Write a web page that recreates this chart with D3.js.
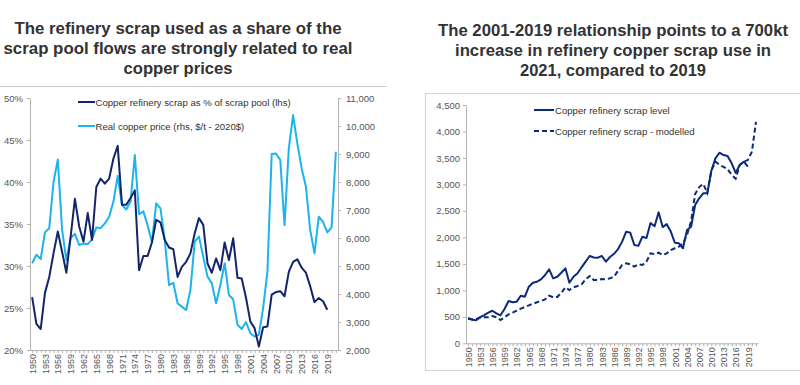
<!DOCTYPE html>
<html>
<head>
<meta charset="utf-8">
<script src="https://cdn.jsdelivr.net/npm/d3@7"></script>
<style>
html,body{margin:0;padding:0;background:#fff;}
svg{display:block;}
</style>
</head>
<body>
<svg id="chart" width="800" height="385"></svg>
<script>
// ---------- DATA ----------
const years = d3.range(1950, 2022); // 1950..2021 category axis
const leftTitle = ["The refinery scrap used as a share of the", "scrap pool flows are strongly related to real", "copper prices"];
const rightTitle = ["The 2001-2019 relationship points to a 700kt", "increase in refinery copper scrap use in", "2021, compared to 2019"];

const seriesNamesLeft = ["Copper refinery scrap as % of scrap pool (lhs)", "Real copper price (rhs, $/t - 2020$)"];
const seriesNamesRight = ["Copper refinery scrap level", "Copper refinery scrap - modelled"];

// % of scrap pool, 1950-2019
const scrapShare = [26.3,23.1,22.5,26.8,28.7,31.5,34.1,31.7,29.2,33.5,
  38.0,34.7,32.9,36.3,33.1,39.4,40.4,39.8,40.4,42.8,
  44.3,37.3,37.3,38.1,39.0,29.5,31.2,31.2,32.8,35.5,
  35.2,33.1,32.2,32.0,28.7,29.9,30.5,31.5,33.9,35.7,
  34.9,30.3,29.2,30.9,29.5,32.8,30.7,33.3,28.6,28.5,
  26.2,23.4,22.6,20.4,22.7,22.8,26.6,26.9,27.0,26.4,
  29.3,30.5,30.8,29.8,29.2,27.6,25.7,26.2,25.8,24.8];
// Real copper price $/t 2020$, 1950-2021
const copperPrice = [5100,5400,5250,6200,6350,8000,8800,6300,5200,6000,
  6150,5750,5800,5780,5950,6380,6350,6520,6760,7300,
  8220,7180,7020,7300,8960,6850,6950,6450,5850,7240,
  7060,5930,4320,4400,3670,3550,3430,4140,5870,6050,
  5330,4620,4380,3670,4320,5100,3965,3810,2900,2750,
  3000,2600,2480,2550,3500,4800,9000,9020,8790,6460,
  9200,10390,9380,8490,7830,6290,5450,6760,6580,6200,
  6380,9080];
// Copper refinery scrap level (kt), 1950-2019
const scrapLevel = [480,445,435,495,534,580,615,566,529,648,
  799,774,786,899,880,1069,1144,1163,1208,1290,
  1397,1227,1257,1333,1416,1144,1257,1322,1435,1541,
  1648,1620,1617,1648,1541,1630,1690,1780,1920,2107,
  2090,1856,1840,2013,1990,2270,2210,2473,2195,2250,
  2110,1899,1888,1794,2139,2202,2611,2738,2832,2832,
  3259,3493,3599,3555,3536,3398,3220,3366,3429,3334];
// Copper refinery scrap modelled (kt), 1950-2021
const scrapModelled = [459,455,455,483,491,491,515,491,440,491,
  547,578,616,654,685,717,748,774,799,830,
  899,868,874,955,1057,1006,1057,1082,1114,1208,
  1271,1195,1195,1214,1208,1227,1257,1371,1478,1510,
  1491,1447,1491,1478,1541,1699,1686,1711,1667,1699,
  1762,1794,1824,1888,2050,2300,2820,2950,3010,2840,
  3260,3430,3370,3330,3290,3180,3110,3370,3430,3460,
  3620,4180];

const pctTicks = [20,25,30,35,40,45,50];
const priceTicks = [2000,3000,4000,5000,6000,7000,8000,9000,10000,11000];
const levelTicks = [0,500,1000,1500,2000,2500,3000,3500,4000,4500];
const labelYears = years.filter(y => (y - 1950) % 3 === 0 && y <= 2019);

// ---------- STYLE ----------
const NAVY_L = "#13256a";
const CYAN = "#1db3eb";
const NAVY_R = "#0d2a78";
const AXIS = "#b3b3b3";
const LABEL = "#555";
const NARROW = "'Liberation Sans Narrow','Arial Narrow','Liberation Sans',Arial,sans-serif";
const BOLD = "'Liberation Sans',Arial,sans-serif";

const svg = d3.select("#chart");

// ---------- TITLES ----------
function title(lines, widths, cx, y0) {
  const t = svg.append("text").attr("text-anchor","middle")
    .attr("font-family", BOLD).attr("font-weight","bold").attr("font-size", 16.8)
    .attr("fill","#333");
  lines.forEach((l,i)=> t.append("tspan").attr("x",cx).attr("y", y0 + i*20)
    .attr("textLength", widths[i]).attr("lengthAdjust","spacingAndGlyphs").text(l));
}
title(leftTitle, [327, 349, 109], 178, 33.5);
title(rightTitle, [350, 316, 186], 613, 36);

// separator / frame
svg.append("line").attr("x1",0).attr("x2",387).attr("y1",86.5).attr("y2",86.5)
  .attr("stroke","#cfcfcf").attr("stroke-width",1.2);
svg.append("rect").attr("x",425.5).attr("y",93.5).attr("width",400).attr("height",277)
  .attr("fill","none").attr("stroke","#d6d6d6").attr("stroke-width",1.2);

// ---------- LEFT CHART ----------
const xL = d3.scalePoint().domain(years).range([30, 338]).padding(0.5);
const yL = d3.scaleLinear().domain([20, 50]).range([350, 98]);
const yP = d3.scaleLinear().domain([2000, 11000]).range([350, 98]);

function styleAxis(g, fs) {
  g.select(".domain").attr("stroke", AXIS);
  g.selectAll(".tick line").attr("stroke", AXIS);
  g.selectAll("text").attr("fill", LABEL).attr("font-family", NARROW).attr("font-size", fs);
}

svg.append("g").attr("transform","translate(30,0)")
  .call(d3.axisLeft(yL).tickValues(pctTicks).tickFormat(d=>d+"%").tickSize(3).tickSizeOuter(0).tickPadding(4))
  .call(g=>styleAxis(g, 9.5));
svg.append("g").attr("transform","translate(338,0)")
  .call(d3.axisRight(yP).tickValues(priceTicks).tickFormat(d3.format(",")).tickSize(3).tickSizeOuter(0).tickPadding(5))
  .call(g=>styleAxis(g, 9.5));

// x axis left
const gxL = svg.append("g").attr("transform","translate(0,350)")
  .call(d3.axisBottom(xL).tickValues(years).tickSize(3).tickSizeOuter(0)
    .tickFormat(d => labelYears.includes(d) ? d : ""))
  .call(g=>styleAxis(g, 9));
gxL.selectAll(".tick text").attr("transform","rotate(-90)").attr("text-anchor","end")
  .attr("x",-4).attr("y",0).attr("dy","0.35em");

const lineShare = d3.line().x((d,i)=>xL(years[i])).y(d=>yL(d));
const linePrice = d3.line().x((d,i)=>xL(years[i])).y(d=>yP(d));
svg.append("path").datum(copperPrice).attr("d", linePrice).attr("fill","none")
  .attr("stroke",CYAN).attr("stroke-width",2).attr("stroke-linejoin","round");
svg.append("path").datum(scrapShare).attr("d", lineShare).attr("fill","none")
  .attr("stroke",NAVY_L).attr("stroke-width",2).attr("stroke-linejoin","round");

// legend left
[[NAVY_L, seriesNamesLeft[0], 102],[CYAN, seriesNamesLeft[1], 126]].forEach(([c,t,y])=>{
  svg.append("line").attr("x1",78).attr("x2",95).attr("y1",y).attr("y2",y)
    .attr("stroke",c).attr("stroke-width",2);
  svg.append("text").attr("x",95.5).attr("y",y+3.5).attr("font-family",NARROW)
    .attr("font-size",9.6).attr("fill","#333").text(t);
});

// ---------- RIGHT CHART ----------
const xR = d3.scalePoint().domain(years).range([466, 758]).padding(0.5);
const yR = d3.scaleLinear().domain([0, 4500]).range([343.3, 105]);

svg.append("g").attr("transform","translate(466,0)")
  .call(d3.axisLeft(yR).tickValues(levelTicks).tickFormat(d3.format(",")).tickSize(3).tickSizeOuter(0).tickPadding(3))
  .call(g=>styleAxis(g, 9.5));
const gxR = svg.append("g").attr("transform","translate(0,343.3)")
  .call(d3.axisBottom(xR).tickValues(years).tickSize(3).tickSizeOuter(0)
    .tickFormat(d => labelYears.includes(d) ? d : ""))
  .call(g=>styleAxis(g, 9));
gxR.selectAll(".tick text").attr("transform","rotate(-90)").attr("text-anchor","end")
  .attr("x",-4).attr("y",0).attr("dy","0.35em");

const lineR = d3.line().x((d,i)=>xR(years[i])).y(d=>yR(d));
svg.append("path").datum(scrapModelled).attr("d", lineR).attr("fill","none")
  .attr("stroke",NAVY_R).attr("stroke-width",2).attr("stroke-dasharray","5,3");
svg.append("path").datum(scrapLevel).attr("d", lineR).attr("fill","none")
  .attr("stroke",NAVY_R).attr("stroke-width",2).attr("stroke-linejoin","round");

// legend right
[[false, seriesNamesRight[0], 110],[true, seriesNamesRight[1], 131]].forEach(([dash,t,y])=>{
  svg.append("line").attr("x1",534).attr("x2",554).attr("y1",y).attr("y2",y)
    .attr("stroke",NAVY_R).attr("stroke-width",2).attr("stroke-dasharray", dash ? "5,3" : null);
  svg.append("text").attr("x",555).attr("y",y+3.5).attr("font-family",NARROW)
    .attr("font-size",9.6).attr("fill","#333").text(t);
});
</script>
</body>
</html>
